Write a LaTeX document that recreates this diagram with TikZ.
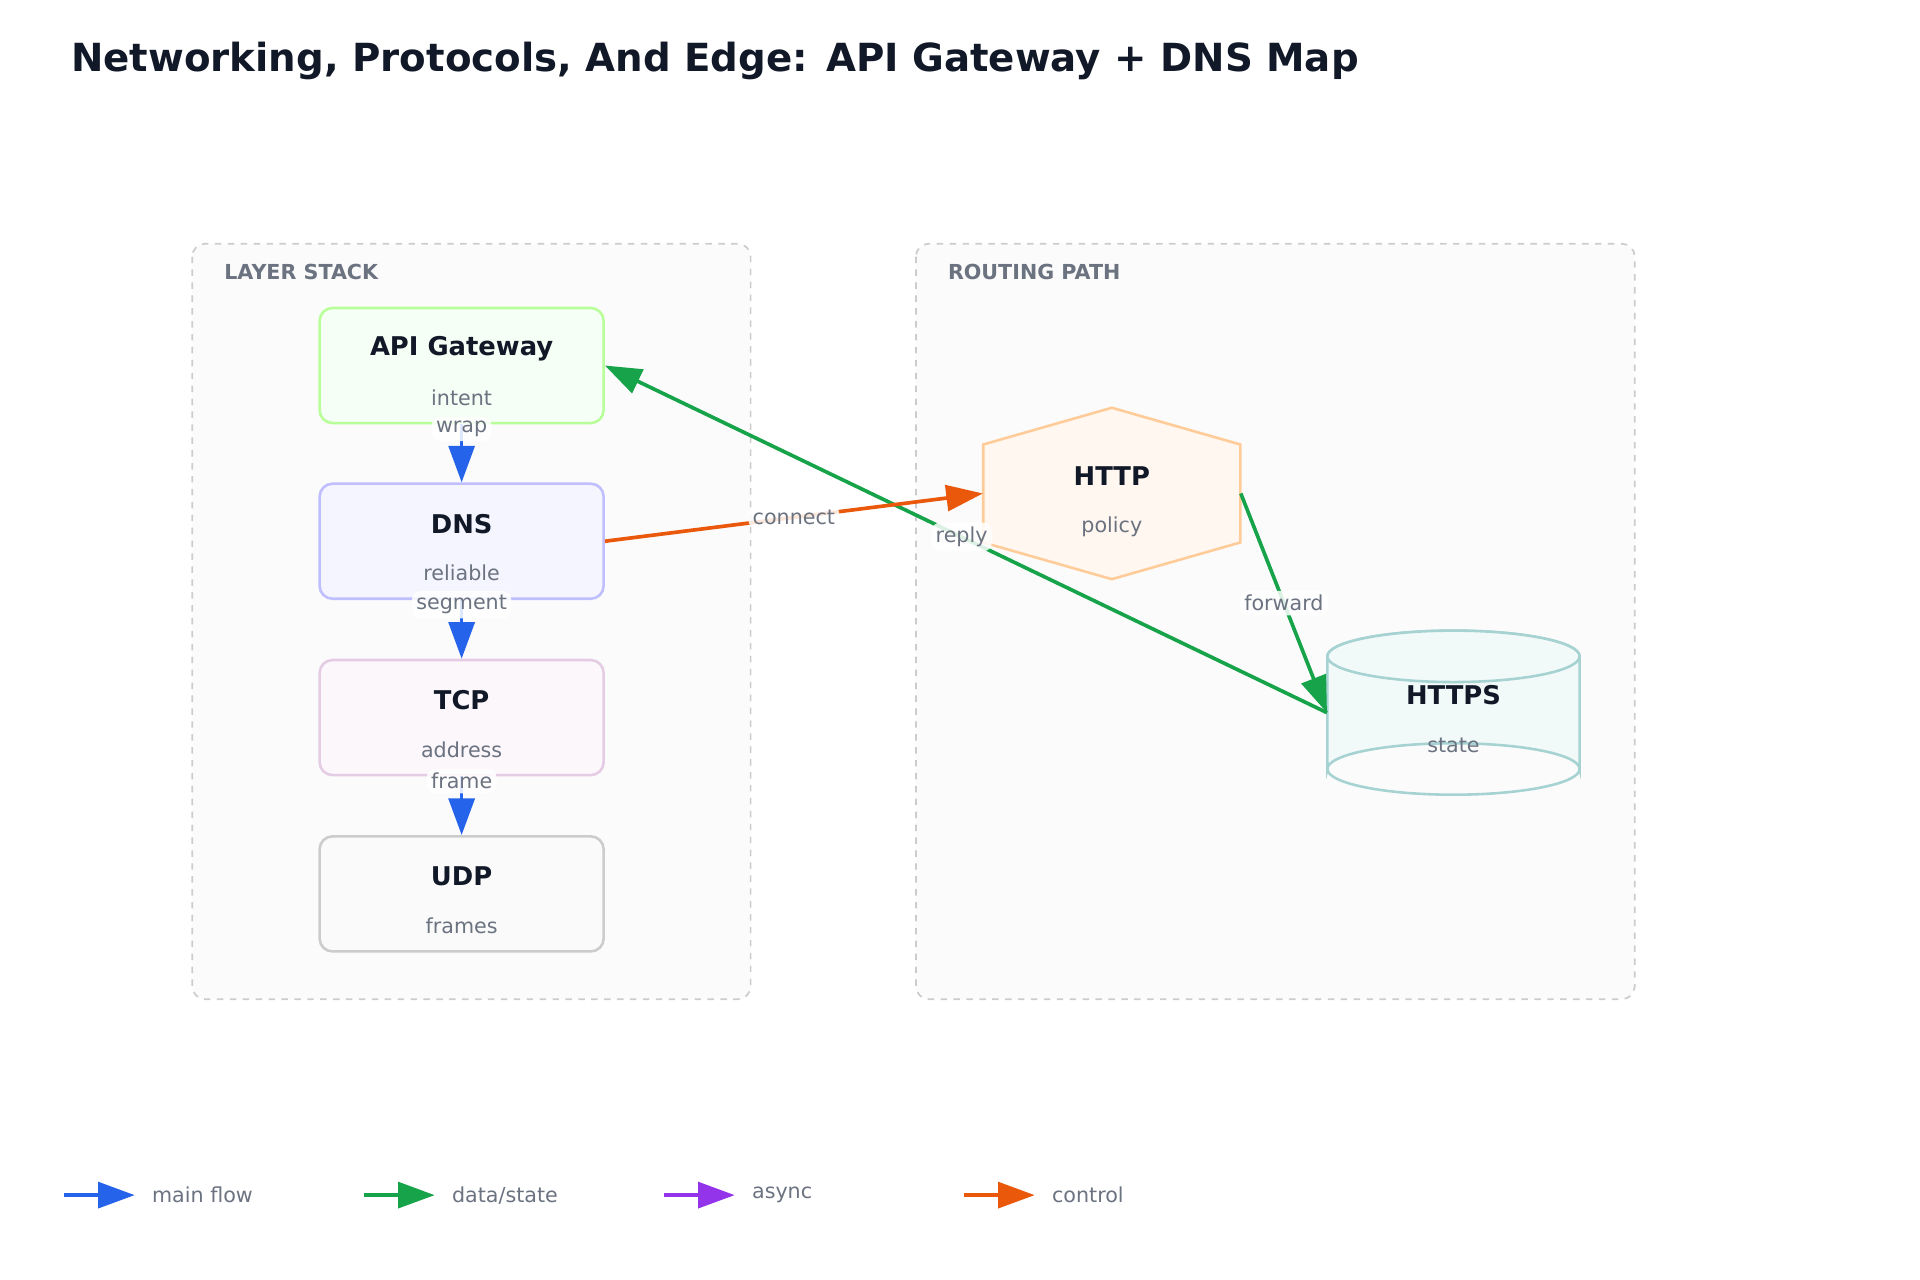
\documentclass[tikz,border=0pt]{standalone}
\usepackage{fontspec}
\setmainfont{DejaVu Sans}
\usetikzlibrary{arrows.meta}
\definecolor{ink}{HTML}{111827}
\definecolor{muted}{HTML}{6B7280}
\definecolor{cblue}{HTML}{2563EB}
\definecolor{cgreen}{HTML}{16A34A}
\definecolor{cpurple}{HTML}{9333EA}
\definecolor{corange}{HTML}{EA580C}
\tikzset{
  grp/.style={draw=black!20,dashed,fill=black!1.5,rounded corners=6pt,line width=0.8pt},
  grplabel/.style={anchor=west,font=\fontsize{9.6}{11}\selectfont\bfseries,text=muted},
  boxn/.style={draw,rounded corners=6pt,line width=1.2pt,minimum width=4.64cm,minimum height=1.88cm},
  ttl/.style={font=\fontsize{12}{14}\selectfont\bfseries,text=ink},
  sub/.style={font=\fontsize{9.6}{11}\selectfont,text=muted},
  elab/.style={font=\fontsize{9.6}{11}\selectfont,text=muted,fill=white,fill opacity=0.85,text opacity=1,rounded corners=4pt,inner sep=2pt},
  arr/.style={line width=1.7pt,-{Triangle[length=17pt,width=12pt]}},
}
\begin{document}
\begin{tikzpicture}[x=0.02cm,y=-0.02cm]
\useasboundingbox (0,0) rectangle (1568,1045);
\node[anchor=west,font=\fontsize{18}{21}\selectfont\bfseries,text=ink] (title) at (52,50) {Networking, Protocols, And Edge: API Gateway + DNS Map};
% groups
\draw[grp] (157,199) rectangle (613,816);
\node[grplabel] (g1) at (177,222) {LAYER STACK};
\draw[grp] (748,199) rectangle (1335,816);
\node[grplabel] (g2) at (768,222) {ROUTING PATH};
% boxes
\node[boxn,draw=green!60!lime!40,fill=green!4] (api) at (377,298.5) {};
\node[ttl] at (377,285) {API Gateway}; \node[sub] at (377,325) {intent};
\node[boxn,draw=blue!25,fill=blue!4] (dns) at (377,442) {};
\node[ttl] at (377,428) {DNS}; \node[sub] at (377,468) {reliable};
\node[boxn,draw=violet!20,fill=violet!3] (tcp) at (377,586) {};
\node[ttl] at (377,572) {TCP}; \node[sub] at (377,612) {address};
\node[boxn,draw=black!20,fill=black!2] (udp) at (377,730) {};
\node[ttl] at (377,716) {UDP}; \node[sub] at (377,756) {frames};
% hexagon
\draw[draw=orange!40,fill=orange!6,line width=1.2pt] (908,333)--(1013,363)--(1013,443)--(908,473)--(803,443)--(803,363)--cycle;
\node[minimum width=4.2cm,minimum height=1.4cm,inner sep=0] (http) at (908,403) {};
\node[ttl] at (908,389) {HTTP}; \node[sub] at (908,430) {policy};
% cylinder
\draw[draw=teal!35,fill=teal!5,line width=1.2pt] (1084,536) -- (1084,628) arc[start angle=180,end angle=360,x radius=103,y radius=21] -- (1290,536) arc[start angle=0,end angle=-180,x radius=103,y radius=21];
\draw[draw=teal!35,fill=teal!5,line width=1.2pt] (1187,536) ellipse[x radius=103,y radius=21];
\draw[draw=teal!35,line width=1.2pt] (1084,628) arc[start angle=180,end angle=0,x radius=103,y radius=21];
\node[minimum width=4.12cm,minimum height=1.84cm,inner sep=0] (https) at (1187,582) {};
\node[ttl] at (1187,568) {HTTPS}; \node[sub] at (1187,609) {state};
% edges
\draw[arr,cblue] (api.south) -- node[elab,pos=0.08]{wrap} (dns.north);
\draw[arr,cblue] (dns.south) -- node[elab,pos=0.08]{segment} (tcp.north);
\draw[arr,cblue] (tcp.south) -- node[elab,pos=0.08]{frame} (udp.north);
\draw[arr,cgreen] (https.west) -- node[elab,pos=0.506]{reply} (api.east);
\draw[arr,corange] (dns.east) -- node[elab,pos=0.5]{connect} (http.west);
\draw[arr,cgreen] (http.east) -- node[elab,pos=0.5]{forward} (https.west);
% legend
\coordinate (l1a) at (52,976); \coordinate (l1b) at (110,976);
\draw[arr,cblue] (l1a) -- (l1b); \node[sub,anchor=west] (t1) at (118,976) {main flow};
\coordinate (l2a) at (297,976); \coordinate (l2b) at (355,976);
\draw[arr,cgreen] (l2a) -- (l2b); \node[sub,anchor=west] (t2) at (363,976) {data/state};
\coordinate (l3a) at (542,976); \coordinate (l3b) at (600,976);
\draw[arr,cpurple] (l3a) -- (l3b); \node[sub,anchor=west] (t3) at (608,976) {async};
\coordinate (l4a) at (787,976); \coordinate (l4b) at (845,976);
\draw[arr,corange] (l4a) -- (l4b); \node[sub,anchor=west] (t4) at (853,976) {control};
\end{tikzpicture}
\end{document}
